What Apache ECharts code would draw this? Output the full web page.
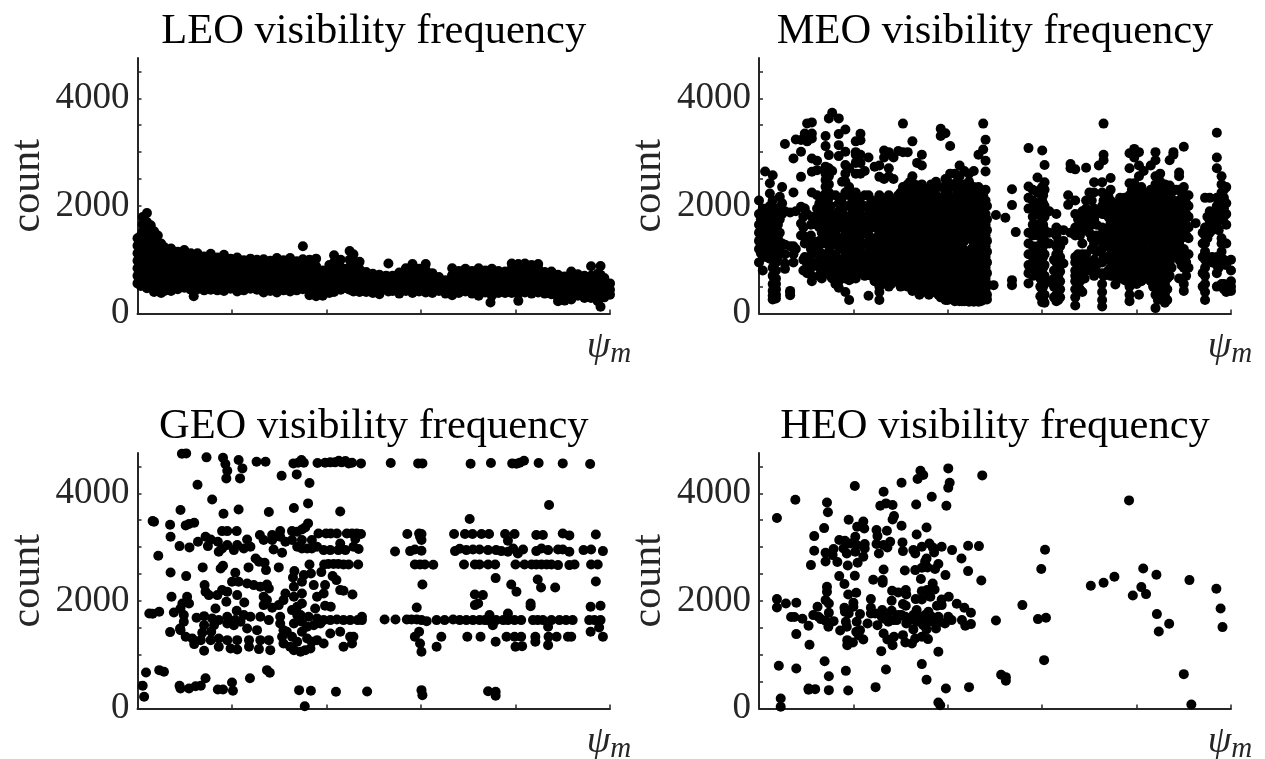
<!DOCTYPE html>
<html>
<head>
<meta charset="utf-8">
<script src="https://cdn.jsdelivr.net/npm/echarts@6/dist/echarts.min.js"></script>
<style>html,body{margin:0;padding:0;background:#fff}</style>
</head>
<body>
<div id="main" style="width:1265px;height:759px;"></div>
<script>
var panelNames = ['LEO visibility frequency','MEO visibility frequency','GEO visibility frequency','HEO visibility frequency'];
var yTicks = [0,500,1000,1500,2000,2500,3000,3500,4000,4500];
var yLabels = [0,2000,4000];
var xTicks = [0,20,40,60,80,100];

// LEO, read column by column: x then the counts stacked in that column
var leoX = [0,0.7,1.1,2,2.8,3.5,4.3,5,5.7,7.1,8.5,9.9,11.3,11.9,12.7,14.1,15.5,16.9,18.3,19.7,21.1,22.5,23.9,25.3,26.7,28.1,29.5,30.9,32.3,33.7,35,36.4,37.8,39.2,40.6,41.6,43,44.9,45.7,47,48.4,49.8,51.2,53.1,54,55.4,56.8,58.2,59.6,61,62.4,63.8,65.2,66.6,68,69.4,70.8,72.2,73.6,74.7,75,76.4,77.8,79.2,80.6,82,83.4,84.8,86.2,87.6,89,90.4,91.8,93.2,94.6,96,97.4,98,98.8,100];
var leoY = [
[1400,1260,1120,980,840,700,560],[1450,1330,1190,1050,910,770,630,510],[1793,1660,1520,1380,1240,1100,960,820,680,540],[1868,1700,1560,1420,1280,1140,1000,860,720,580,470],[1640,1500,1360,1220,1080,940,800,660,520],[1530,1390,1250,1110,970,830,690,550,400],[1450,1310,1170,1030,890,750,610,470],[1300,1160,1020,880,740,600,460,380],[1230,1090,950,810,670,530,420],
[1210,1070,930,790,650,510,420],[1150,1010,870,730,590,450],[1180,1040,900,760,620,480],[1120,980,840,700,560,440],[320],[1120,980,840,700,560,450],[1060,920,780,640,500,430],[1110,970,830,690,550,440],[1040,900,760,620,480,430],[1090,950,810,670,530,420],[1020,880,740,600,460],[1040,900,760,620,480,410],[990,850,710,570,430],[1020,880,740,600,460],[1000,860,720,580,440],[1010,870,730,590,450,390],[980,840,700,560,420],[1030,890,750,610,470,390],[990,850,710,570,430],[1030,890,750,610,470,410],[970,830,690,550,430],
[1250,1010,870,730,590,450],[1000,860,720,580,440,340],[1020,880,740,600,460,320],[800,660,520,420,330],[900,760,620,480,380],[1082,950,810,670,530,400],[1000,860,720,580,440],[1163,1000,860,720,580,440],[1100,960,820,680,540,410],[960,820,680,540,400],[770,630,490,400],[740,600,460,380],[720,580,440,360],[928,690,550,410],[700,560,420],[760,620,480,370],[840,700,560,420],[920,780,640,500,380],[830,690,550,410],[920,780,640,500,390],[750,610,470,380],[680,540,420],[620,480,370],[840,700,560,420,340],[790,650,510,380],[830,690,550,410],[790,650,510,370],[840,700,560,420,330],[800,660,520,390],[204],[830,690,550,410,330],[790,650,510,380],[780,640,500,380],[930,790,650,510,380],[920,780,640,500,370,235],[930,790,650,510,390],[900,760,620,480,370],[920,780,640,500,390],[770,630,490,370],[780,640,500,360],[720,580,440,300,230],[690,550,410,260,240],[780,640,500,360,260],[730,590,450,330],[700,560,420,290],[880,700,560,420,290],[740,600,460,320,230],[884,720,580,440,330,124],[660,520,400,300],[560,440,350]
];
// LEO, the counts packed inside the solid band between those columns
var leoFillX = [7.8,9.2,10.6,12,13.4,14.8,16.2,17.6,19,20.4,21.8,23.2,24.6,26,27.4,28.8,30.2,31.6,33,34.4,35.8,37.2,38.6,40,41.4,42.8,44.2,45.6,47,48.4,49.8,51.2,52.6,54,55.4,56.8,58.2,59.6,61,62.4,63.8,65.2,66.6,68,69.4,70.8,72.2,73.6,75,76.4,77.8,79.2,80.6,82,83.4,84.8,86.2,87.6,89,90.4,91.8,93.2,94.6,96,97.4,98.8];
var leoFillY = [
[480,600,720,840,960,1080],[490,610,730,850,970,1090],[480,600,720,840,960],[470,590,710,830,950],[480,600,720,840,960],[490,610,730,850,970],[480,600,720,840,950],[470,590,710,830,940],[480,600,720,840,950],[490,610,730,850,950],[480,600,720,840,930],[470,590,710,830,930],[480,600,720,840,930],[490,610,730,850,930],[480,600,720,840,920],[470,590,710,830,930],[480,600,720,840,930],[490,610,730,850,930],[480,600,720,840,920],[470,590,710,830,920],[480,600,720,840,920],
[490,610,730],[470,590,700],[480,600,710],[490,610,730,850],[480,600,720,840],[470,590,710,830],[480,600,720,840],[490,610,720],[470,590,680],[460,580,670],[470,580,660],[470,590,700],[470,580,680],[480,590,690],[470,600,720],[480,600,720,800],[470,590,700],[480,590,700,810],[460,570,650],[450,550],[450,530],[470,590,710],[480,600,700],[470,590,710],[480,600,710],[470,590,710],[480,600,700],[470,590,710],[480,600,700],[470,590,680],[480,600,710,830],[470,590,710,830],[480,600,720,830],[470,590,710,820],[480,600,720,840],[470,590,690],[460,580,680],[450,570,650],[450,560,640],[460,580,690],[450,570,650],[460,570,630],[450,570,690],[450,570,650],[430,530]
];

// MEO, same column layout
var meoX = [0,0.8,1.3,2.3,2.9,3.6,4.4,4.9,5.5,6.6,7.3,7.8,8.9,9.7,10.2,11.2,12.3,13.3,14.1,14.8,15.5,16.9,18.3,19.1,20.5,21.5,22.4,23.2,24.5,25.5,26.5,27.5,28.5,29.5,30.5,31.5,32.5,33.5,34.5,35.5,36.5,37.5,38.5,39.5,40.5,41.5,42.5,43.5,44.5,45.5,46.5,47.5,48,49.7,50.2,52.2,53.6,54.4,57.1,58,59,59.6,60,60.5,61.5,63,63.8,64.5,65.5,66,67,67.6,68.5,69.3,70,71,72,72.7,73,74.5,75.5,76.5,77.5,78.5,79.5,80.5,81.5,83,84,85,86,87,87.8,89,90,91,92.5,94.5,95.5,96,97,97.8,98,99,100];
var meoY = [
[2100,1850,1650,1500,1350,1200,950],[1950,1750,1550,1400,1250,1100,800],[2640,1850,1650,1450,1250,1050],[2420,2230,2000,1800,1600,1400,1200,1020],[2570,2100,1900,1700,1500,1300,1000,850,700,550,420,330,260],[1950,1750,1500,1300,1100,950,800,650,550,450,350,280],[2170,1950,1750,1500,1320,1150],[2350,2050,1850,1300],[3150,1900,1280,1100,930,830],[1880,1250,400,340,420],[2880,2250,1250,1100,950],[3236,1900,1200],[3224,3007,2540,1985,1674,1450],[3348,1950,1300,1050],[3534,3200,1850,1350,1000,900,750],
[3553,3348,3255,2883,2635,2250,1800,1350,1100,950,700,600],[2665,2840,2200,1950,1750,1650,1250],[2150,1950,1700,1500,1300,1100,950,800,650],[3300,3112,2730,2600,2480,2355,2230,2100,1950,1800,1600,1450,1300,1050,900,750],[3627,2945,2700,2550,2400,2250,2150,2000,1700,1550,1400,1150,950,750],[3732,2650,1800,1650,1500,1350,950,800,650],[3627,3335,3130,2926,2050,1900,1800,1600,1400,1250,950,800,600,480],[3422,3007,2760,2600,2450,2250,2000,1800,1650,1500,1300,1100,900,750,650,400],[2700,2350,2200,2000,1800,1650,1500,1350,1200,1050,900,750,620,250],[3200,3000,2950,2800,2600,2250,2100,1950,1800,1600,1400,1250,1100,950,750,650],[3340,3220,2950,2800,2600,2150,2000,1850,1650,1450,1300,1150,1000,800],[2650,2200,2000,1800,1650,1500,1300,1100,950,800,700],[2900,2200,1950,1750,1550,1450,1250,1100,950,330],[2730,2000,1800,1600,1400,1200,1000,750,600],[2750,2540,2200,1950,1750,1500,1300,1100,900,650,500,400,250],[3030,2900,2500,2100,1900,1700,1550,1400,1150,950,800,650],[3000,2700,2550,2200,2050,1850,1650,1500,1300,1100,900,700,500],[2900,2500,1950,1750,1550,1250,1050,800],[3020,2200,2000,1800,1600,1400,1250,900,650],[3530,3000,2350,2150,1950,1700,1500,1150,950,750],[3000,2400,2200,2050,1850,1650,1350,1100,900,700,500],[3200,2550,2300,2100,1900,1750,1500,1300,1100,950,750,600,420],[2800,2250,2000,1800,1600,1450,1250,1050,850,650,450],[2950,2750,2400,2150,1950,1750,1550,1300,1100,850,600],[2300,2050,1900,1700,1550,1350,1150,950,750,550,400],[2400,2150,1950,1750,1600,1400,1200,1000,800,650,500],[2450,2200,2000,1800,1650,1450,1250,1050,850,700,450],[3435,3300,2150,1950,1750,1550,1350,1150,950,800,620,450,300],[3350,2500,2250,2050,1850,1650,1450,1250,1050,850,700,550,350,250],[3115,2600,2350,2150,1950,1750,1550,1350,1150,950,750,600,450,300],[2600,2150,1800,1600,1400,1100,900,700,500,300,230],[2750,2550,2350,2100,1950,1750,1550,1300,1150,950,750,600,450,300,230],[2650,2400,2200,1800,1600,1350,1150,900,700,550,400,300,230],[2600,2450,2150,1950,1750,1550,1050,850,650,500,350,220],[2650,2350,2200,1950,1750,1500,1300,1100,900,700,500,350,220],[2950,2350,2150,1900,1700,1500,1300,1100,850,650,500,300,220],[3530,3050,2200,1950,1800,1600,1400,1200,1000,800,600,400,250],[3230,2840,2640,2300,2100,1850,1650,1450,1250,1050,850,650,450,300],
[527],[1830],[1780],[2310,2015,620,527],[1513],
[3075,2360,2150,1950,1500,1300,1100,900,750,560],[2300,2100,1800,1650,1450,1250,1050,850,700],[2530,2250,2050,1850,1650,1450,1250,1000],[2300,2050,1850,1650,1450,1250,1050,850,650,500,320],[3030,2350,2150,1950,1750,1550,1350,1150,950,750,600,450,280,210],[2760,2440,2300,2000,1800,1550,1350,1100,900,700,550,350,200],[1900,1500,1300,600],[1850,1600,1450,1250,1100,950,800,650,500,350,230],[1250,1050,900,780,600,450,300],[1550,1350,930],[2200,2020],[2780,2700,1500],[2680,2100,1850,1600,1450,1050,950,800,700,600,450,300,150],[1750,1550,1100,850,550],[1900,1600,1300,1100,950,850,700,400],[2710,2100,1950,1700,1550,1100],[2250,1750,1500,950,800],[2440,2250,1950,1750,1300,1000,850,700],[2750],[2440,2250,2000,1850,1600,1350,1200,950,750,550,400,250,130],[3530,2950,2850,2100,1850,1500,1250,1050,700],[2520,2300,2100,1900,1700,1350,1100,850,700],[1950,1750,1500,1300,900,800,540],[2150,1900,1650,1450,1150,950,800,650],[2150,1950,1750,1550,1350,1150,950,800,620],[2980,2700,2420,2200,2000,1800,1600,1350,1150,950,700,500,350,230],[3060,2900,2420,2250,2050,1850,1650,1450,1250,1000,800,650],[3000,2750,2550,2150,1950,1750,1550,1300,1100,850,650,350],[2650,2250,2050,1850,1650,1450,1250,1050,850,700],[2750,2300,2100,1900,1700,1500,1300,1000,800,600],[3000,2850,2550,2400,2150,1950,1750,1550,1350,1150,950,750,550,350,100],[2600,2450,2250,2000,1800,1600,1400,1200,1000,800,600,400],[2400,2200,2000,1800,1600,1400,1200,1000,750,550,350,200],[2850,2380,2150,1950,1750,1550,1350,1150,950,700],[2950,3000,2300,2100,1900,1700,1500,1300,1150],[2620,2550,2300,2100,1900,1700,1500,1300,1000,650],[3100,2350,2150,1950,1750,1550,1200,1050,850,550,420],[2200,2000,1800,1600,1400,1100,850],[1680],[2150,1600,1450,1300,1150,1000,850,700,550,400,250],[2150,1900,1700,1500],[1800,1550,1050,950],[3360,2700,2900,2150,2000,1850,1650,1050,900,750,500],[2150],[2550,2400,2250,2100,1900,1750,1400,1300,1150,950,550],[2350,2050,1850,1650,1300,900,500,400],[1000,800,600,500,420]
];
// MEO, the columns packed between the ones above
var meoFillX = [0.4,1.8,3.2,4,9.4,11,12.8,15.2,16.2,17.6,19.8,21,23.8,25,26,27,28,29,30,31,32,33,34,35,36,37,38,39,40,41,42,43,44,45,46,47,48.3,58.5,60.2,62.5,63.4,68,69,70.5,71.5,74,75,76,77,78,79,80,81,82,83.5,84.5,85.5,86.5,87.4,88.4,89.5,90.5,94,95,97.4,98.5];
var meoFillY = [
[1750,1420,1270,1120],[1950,1750,1550,1350,1150],[1850,1600,1400,1200],[1850,1650,1400,1200,1050],[1800,1600,1450,1000,800],[1650,1450,1200,850],[2050,1850,1600,1350,1150,1000,850,700],[2000,1850,1250,1100,850,700],[2200,1750,1500,1300,1100,850,700,550],[2450,2150,1900,1700,1400,1200,1000,850,700],[2100,1900,1700,1450,1300,1150,1000,800,650],[2050,1900,1750,1550,1350,1200,900,750],[2100,1850,1650,1300,1050,850,700],[2100,1850,1650,1400,1200,1000,800,600],[2000,1800,1600,1300,1050,850,700,550],[2100,1950,1750,1550,1400,1200,1000,800,600],[2000,1850,1650,1400,1150,950,700,550],[2100,1900,1700,1500,1300,1100,800,600],
[2250,2050,1800,1600,1400,1250,1000,850,650,500],[2300,2100,1950,1750,1550,1250,1000,800,600],[2450,2200,1950,1800,1600,1400,1200,1050,850,650],[2400,2150,1900,1700,1500,1350,1150,950,750,550],[2300,2050,1850,1650,1400,1200,1000,750,500,350],[2200,2000,1800,1600,1450,1250,1050,850,650,450],[2300,2050,1850,1650,1500,1300,1100,900,700,550,350],[2300,2100,1900,1700,1500,1350,1150,950,750,600,400],[2350,2050,1850,1650,1450,1250,1050,900,700,550,350],[2350,2150,1950,1750,1550,1350,1150,950,750,600,450,300],[2450,2250,2050,1850,1650,1450,1250,1050,850,650,500,350,250],[2400,2050,1900,1700,1500,1250,1000,800,600,400,270],[2450,2250,2000,1850,1650,1450,1200,1050,850,650,500,350,250],[2300,2100,1900,1700,1450,1250,1050,800,600,450,350,230],[2300,2050,1850,1650,1450,1150,950,750,600,420,280],[2250,2050,1850,1650,1400,1200,1000,800,600,430,280],[2250,2050,1800,1600,1400,1200,1000,750,600,400,260],[2100,1900,1700,1500,1300,1100,900,700,500,350,230],[2000,1750,1550,1350,1150,950,750,550,350,260],
[1950,1550,1150,950,750],[2200,2050,1850,1650,1450,1250,1050,850,650,500,350,250],[1000,800,650,500,300],[1350,1150,1000,850,700,550,400,250],[1800,1450,1000,900,750,600,450],[1850,1600,1000,800,650],[2100,1850,1650,1400,1200,900],[1850,1650,1450,1150,900,750],[2200,2000,1800,1600,1450,1250,1000,800],[1850,1650,1400,1200,1000,700],[2050,1800,1550,1300,1050,850,700],[2050,1850,1650,1450,1250,1050,850,700],[2100,1900,1700,1500,1250,1050,850,600],[2300,2100,1900,1700,1500,1300,1100,900,750,550],[2300,2050,1850,1650,1450,1200,950,750,550],[2350,2150,1950,1750,1550,1350,1150,950,750,600],[2150,1950,1750,1550,1350,1150,950,800,650],[2200,2000,1800,1600,1400,1150,900,700,500],[2250,2050,1850,1650,1450,1250,1050,850,650,450,250],[2350,2150,1900,1700,1500,1300,1100,900,700,500,300],[2300,2100,1900,1700,1500,1300,1100,850,650,450,250],[2250,2050,1850,1650,1450,1250,1050,850],[2300,2050,1850,1650,1450,1250,1050],[2250,2050,1800,1600,1400,1150,900],[2050,1850,1650,1450,1100,950,700],[1500,1300,1050,750,500],[1800,1600,1400],[2050,1900,1750,1550,1000,850],[2300,2150,1950,1800,1000,550,450]
];

var geoPoints = [
[9.4,4737],[10.3,4743],[14.6,4669],[18.1,4662],[18.6,4545],[19,4421],[18.8,4278],[21.4,4619],[22.2,4464],[21.7,4278],[25.2,4588],[27.1,4588],[30.5,4328],[33.7,4352],[36.4,4191],[12.7,4160],
[33,4557],[34,4570],[34.7,4619],[35.2,4570],[38.1,4563],[39.7,4570],[40.8,4576],[41.8,4576],[42.6,4607],[43.2,4576],[44,4600],[44.7,4557],[45.4,4570],[47.3,4557],[53.6,4563],[59.4,4557],[60.3,4557],[70.5,4551],[74.8,4563],[79.3,4557],[80.2,4551],[80.9,4570],[81.8,4607],[84.9,4563],[90,4557],[95.8,4545],
[15.8,3887],[9.1,3689],[18.2,3621],[21.4,3701],[27.8,3652],[33.1,3726],[36.1,3813],[42.9,3664],[87.1,3782],[70.3,3522],[3.5,3472],[3.2,3484],[6.9,3416],[10.2,3404],[10.9,3429],[12,3453],[36.1,3441],[35.5,3367],[34.8,3329],
[17.9,3298],[19,3298],[21,3298],[30.2,3298],[32.7,3298],[33.8,3286],[38.3,3255],[39.9,3255],[40.9,3255],[42.2,3255],[44.3,3255],[45.4,3255],[46.4,3255],[47.3,3243],[57.1,3243],[59.6,3255],[60.1,3243],[67,3243],[69.3,3243],[70.9,3243],[72.8,3243],[74.4,3243],[77.8,3243],[79.8,3243],[84.4,3224],[85.8,3224],[90,3255],[91.4,3218],[97,3236],[25.9,3224],[28.5,3224],[30.2,3193],[7,3193],[14.4,3193],[15.5,3143],
[8.9,3019],[11,2995],[12.8,3100],[14.9,3019],[17,3100],[17.2,2914],[19,3038],[17.9,2976],[20.4,2945],[21.1,3038],[23.2,3143],[22.5,2976],[23.9,3007],[26.7,3131],[28.5,3131],[28.8,2957],[30.6,2895],[31.3,3100],[32.7,3131],[33.8,3007],[34.8,3131],[34.8,2976],[35.9,2976],[36.9,3131],[36.9,2976],[38,3007],[39.4,2945],[40.8,2945],[42.9,3069],[42.5,2945],[44,2945],[45.7,3007],[46.8,2964],[46.1,3150],[54.5,2920],[57.7,2926],[58.7,2957],[60.1,2933],[59.8,3193],[60.1,3131],
[67.2,2926],[68.2,2970],[69.6,2945],[71,2957],[72.4,2957],[74.2,2945],[75.9,2945],[77,2926],[78.4,2914],[79.5,2976],[80.5,2883],[81.6,2957],[84.4,2926],[85.5,2976],[86.9,2945],[89,2957],[90,2957],[91.4,2914],[94.4,2945],[96,2957],[98.5,2926],[78.4,3119],[4.4,2840],[25,2790],[25.7,2728],[26.9,2709],
[36.4,2678],[39.5,2678],[40.4,2685],[41.5,2685],[42.5,2685],[43.6,2678],[44.7,2678],[46.7,2678],[58.7,2678],[59.8,2678],[60.8,2678],[62.6,2672],[69.1,2678],[71.4,2678],[72.4,2678],[74.2,2678],[75.7,2678],[80,2678],[81.9,2678],[83.4,2678],[84.4,2678],[85.5,2678],[86.6,2678],[87.6,2678],[89,2666],[91.4,2666],[92.5,2678],[96,2678],[97.4,2678],
[13.8,2623],[17.6,2604],[18.1,2654],[23.5,2623],[27.2,2573],[29.9,2623],[7,2530],[10.3,2461],[20.7,2523],[33.2,2554],[32.9,2437],[35.2,2480],[36.7,2511],[38.9,2536],[41.3,2461],[42.1,2387],[42.9,2201],[43.6,2189],[45.5,2120],[75.8,2424],[84.7,2399],[97,2362],[60.3,2306],[79.1,2306],[85.4,2251],[88.4,2251],[80.2,2170],[71.4,2120],[73.1,2108],[72.1,1953],[71.4,1922],[83.2,1953],[83.2,1903],[95.9,1891],[98,1910],[59.1,1879],
[20,2356],[21.4,2356],[23.2,2325],[24.6,2294],[26,2263],[27.4,2306],[27.8,2232],[14.2,2294],[14.4,2170],[15.1,2108],[16.9,2108],[17.9,2201],[19,2170],[18.8,1984],[21.1,2108],[22.6,1972],[10.5,2077],[9.5,1953],[10.9,1953],[7.2,2077],[16.5,1860],[21,1817],[26.7,2077],[27.4,2015],[26.7,1922],[28.5,1872],[31.3,2139],[30.9,2015],[29.9,1922],[33.1,2263],[34.8,2356],[37.3,2294],[39.7,2294],[39.4,2139],[38,2077],[33.1,2077],[34.8,2139],[34.8,1953],[32.7,1829],[33.8,1891],[37.6,1860],[39.7,1910],[40.9,1891],
[3.2,1761],[4.6,1798],[7.7,1786],[2.5,1767],[9.1,1860],[9.8,1736],[9.8,1612],[9,1488],[12.5,1686],[14.1,1717],[15.8,1674],[17.2,1643],[19,1705],[20.7,1643],[22.5,1736],[23.9,1705],[26,1705],[27.8,1643],[14.1,1550],[16.2,1550],[19,1581],[20.4,1550],[21.8,1612],[23.2,1488],[25.3,1457],[6.9,1420],[9.1,1457],[10.2,1333],[12,1197],[11.6,1302],[13.7,1407],[15.6,1426],
[13.4,1271],[14.1,1073],[15.5,1271],[17.2,1147],[17.2,1302],[19.7,1116],[19,1271],[21.1,1097],[21.1,1271],[23.6,1147],[23.6,1271],[25.7,1104],[26,1271],[28.1,1085],[27.8,1271],[30.2,1705],[30.2,1581],[30.9,1457],[30.6,1333],[30.9,1209],[32.3,1147],[33.1,1085],[34.5,1054],[35.5,1085],[36.6,1116],[31.6,1426],[32.7,1333],[33.8,1240],[34.8,1426],[35.9,1302],[36.9,1240],[33.1,1581],[33.8,1736],[34.8,1612],[35.9,1519],[38,1271],[39.4,1209],[40.8,1395],[42.9,1426],[45,1333],[45.4,1209],[43.6,1147],[45.7,1333],
[34.5,1736],[36.2,1705],[38,1674],[39.4,1643],[40.8,1643],[42.2,1655],[43.6,1643],[45,1643],[46.6,1643],[47.5,1705],[47.5,1643],[37.3,1550],[38.7,1581],[52.3,1655],[54.6,1655],[57,1655],[58,1655],[59.1,1655],[60.1,1643],[61.2,1624],[63.3,1643],[65,1643],[66.8,1655],[68.2,1643],[69.6,1643],[71,1643],[72.4,1643],[73.5,1643],[74.5,1736],[74.2,1643],[75.2,1550],[75.9,1643],[77.4,1643],[78.4,1767],[78.4,1643],[79.8,1643],[81.2,1643],[83.7,1643],[84.7,1643],[85.8,1643],[86.9,1519],[87.6,1643],[89.3,1643],[90.7,1643],[92.1,1643],[95.6,1643],[96.7,1643],[98,1643],
[58.7,1333],[59.6,1426],[59.8,1209],[60.1,1054],[63.3,1147],[64.3,1333],[69.8,1333],[72.6,1333],[75.8,1240],[78.1,1333],[79.8,1333],[81.2,1333],[80,1147],[81.4,1159],[84.2,1333],[84.2,1240],[87,1333],[86.9,1178],[88.7,1333],[91.1,1333],[91.8,1333],[95.9,1426],[97.7,1507],[98.5,1333],
[1.8,670],[4.6,713],[5.6,682],[27.4,713],[28,663],[23.8,564],[20,484],[14.4,564],[8.9,422],[9.1,372],[10.9,372],[12.3,415],[13.4,422],[1.1,422],[1.4,217],[17,353],[18.1,353],[20.2,329],[34.2,341],[36.7,329],[42,310],[48.6,316],[60.1,341],[60.3,248],[74.2,322],[75.8,310],[75.8,236],[35.4,43]
];

var heoPoints = [
[3.8,3540],[7.7,3880],[14.4,3830],[14.6,3650],[20.3,4135],[26.4,4030],[30.2,4197],[34.2,4420],[34.8,4340],[33.6,4265],[40.1,4464],[40.4,4197],[40.1,4104],[47.3,4334],[36.6,3937],[33.3,3794],[39.7,3770],[25.7,3770],[26.9,3813],[28.3,3782],[19,3509],[22.1,3478],[20.8,3379],[22.3,3348],[13.8,3354],[28.6,3577],[28.3,3515],[30.2,3398],[24.9,3317],[27.1,3305],[25.1,3205],[33.4,3236],[35.5,3366],[11.7,3205],[20.4,3193],[17,3131],[18.2,3119],[19.3,3069],[20.7,3038],[22.4,3057],[22.4,2976],[15.8,2964],[17.9,2976],[11.7,2933],[14.1,2895],[15.6,2852],[18.6,2883],[20.4,2914],[22.1,2821],[24.9,3057],[26.4,3038],[27.8,3100],[27.2,2995],[25.4,2883],[30.4,3088],[30.5,2926],[32.7,2945],[33.1,2883],[34.5,3007],[36.1,3069],[36.8,2995],[37.1,2902],[38.7,3007],[40.9,2945],[44.3,3026],[46.6,3019],[60.6,2951],[42.9,2790],[35.5,2790],[35.2,2730],[38,2685],[11,2666],[14.1,2734],[16.6,2722],[18.8,2660],[20.9,2709],[26.4,2585],[30.9,2567],[33.1,2573],[34.5,2616],[35.7,2623],[37.3,2592],[44.3,2554],[59.8,2592],[17,2461],[20.3,2468],[39.5,2480],[24.2,2393],[26.2,2387],[26.2,2337],[34.3,2406],[47.1,2381],[18.1,2313],[36.8,2325],[14.4,2263],[14.4,2170],[28.2,2189],[29.5,2158],[31.1,2201],[31.2,2120],[34.5,2182],[35.6,2201],[37.2,2213],[18.9,2120],[20.6,2151],[36,2130],[23.7,2034],[28.1,2003],[3.8,2034],[5.7,1953],[7.9,1965],[3.8,1879],[14.1,2015],[14.8,1953],[20,1965],[33.2,2034],[34.5,2027],[36.3,2077],[38.7,2027],[40.2,2077],[41.9,1947],[30.5,1941],[31.1,1910],[37.7,1910],[38.7,1922],[43.5,1872],[55.8,1922],[18.1,1872],[12.4,1891],[23.7,1872],[20,1891],
[6.8,1700],[7.5,1700],[9.2,1668],[11.5,1736],[12.6,1705],[13.1,1662],[14.8,1780],[14.1,1630],[15.8,1624],[14.7,1519],[10.5,1538],[18.2,1798],[19,1767],[18.4,1612],[18.6,1519],[21.4,1755],[20.7,1612],[23,1581],[23.7,1767],[24.6,1767],[25.1,1550],[26.1,1829],[26.4,1674],[27.1,1705],[28.1,1817],[28.5,1643],[29.5,1736],[31,1705],[31.2,1581],[32.7,1469],[33.4,1829],[33.8,1705],[34.1,1612],[35.2,1736],[35.9,1798],[35.5,1469],[36.6,1705],[37.5,1488],[38,1705],[39.4,1581],[40.1,1705],[40.8,1643],[43,1643],[43.7,1538],[44.9,1780],[44.9,1569],[50.2,1637],[59.1,1662],[60.8,1686],[26,1705],[27.4,1612],[29.2,1643],[30.2,1736],[32,1643],[32.7,1736],[33.4,1612],[34.5,1643],[35.5,1674],[34.8,1550],[36.2,1612],[36.9,1643],[38.4,1612],
[7.9,1383],[10.7,1184],[17.2,1451],[20.6,1426],[21.4,1457],[21.1,1364],[22.1,1283],[18.7,1271],[18.7,1178],[19.9,1228],[26.4,1395],[28.6,1333],[27.2,1283],[28.3,1178],[30.5,1364],[31,1228],[32.4,1209],[33.1,1302],[34.5,1333],[35.8,1290],[25.9,1066],[38,1054],
[4.2,794],[7.9,744],[13.9,880],[18.4,700],[14.8,601],[26.9,725],[34.5,825],[35.5,533],[51.3,626],[52.3,583],[52.3,515],[60.4,899],[90,639],[10.5,372],[10.5,347],[11.9,360],[14.8,341],[18.9,335],[24.7,397],[39.6,372],[44.5,397],[4.6,186],[4.6,31],[38,112],[38.4,62],[91.6,74],
[70.3,2282],[73,2337],[75.3,2449],[78.4,3869],[81.4,2604],[84.2,2486],[81,2257],[79.2,2102],[82,2127],[91.2,2387],[96.9,2226],[97.8,1860],[84.3,1755],[86.9,1575],[84.7,1432],[98.2,1513]
];

function fromColumns(xs, ys){
    var out = [];
    xs.forEach(function(x,i){
        ys[i].forEach(function(y){ out.push([x,y]); });
    });
    return out;
}
var panelData = [
    fromColumns(leoX,leoY).concat(fromColumns(leoFillX,leoFillY)),
    fromColumns(meoX,meoY).concat(fromColumns(meoFillX,meoFillY)),
    geoPoints,
    heoPoints
];

var grids = [
    {left:137.5,top:58,width:472.5,height:255.5,outerBoundsMode:'none'},
    {left:759,top:58,width:472,height:255.5,outerBoundsMode:'none'},
    {left:137.5,top:453,width:472.5,height:255.5,outerBoundsMode:'none'},
    {left:759,top:453,width:472,height:255.5,outerBoundsMode:'none'}
];
var serif = '"Liberation Serif", serif';
var dark = '#262626';

var option = {
    animation:false,
    backgroundColor:'#fff',
    title:[],grid:[],xAxis:[],yAxis:[],series:[]
};
panelNames.forEach(function(name,i){
    var g = grids[i];
    option.grid.push(g);
    option.title.push({
        text:name,
        left:g.left+g.width/2-5,
        top:g.top-58+5,
        textAlign:'center',
        textStyle:{fontFamily:serif,fontSize:42.5,fontWeight:'normal',color:'#000'}
    });
    option.xAxis.push({
        gridIndex:i,type:'value',min:0,max:100,interval:20,
        name:'{a|ψ}{b|m}',
        nameLocation:'end',
        nameGap:-1,
        nameTextStyle:{
            align:'center',verticalAlign:'top',padding:[12,0,0,0],
            rich:{
                a:{fontFamily:serif,fontStyle:'italic',fontSize:38,color:dark},
                b:{fontFamily:serif,fontStyle:'italic',fontSize:29,color:dark,padding:[14,0,0,0]}
            }
        },
        splitLine:{show:false},
        axisLine:{lineStyle:{color:dark,width:2}},
        axisTick:{inside:true,length:4,lineStyle:{color:dark,width:1.5},customValues:xTicks},
        axisLabel:{show:false}
    });
    option.yAxis.push({
        gridIndex:i,type:'value',min:0,max:4750,interval:500,
        name:'count',
        nameLocation:'middle',
        nameGap:89,
        nameTextStyle:{fontFamily:serif,fontSize:42,color:dark},
        splitLine:{show:false},
        axisLine:{show:true,lineStyle:{color:dark,width:2}},
        axisTick:{show:true,inside:true,length:4,lineStyle:{color:dark,width:1.5},customValues:yTicks},
        axisLabel:{fontFamily:serif,fontSize:37,color:dark,margin:8,customValues:yLabels,formatter:function(v){return String(v);}}
    });
    option.series.push({
        type:'scatter',xAxisIndex:i,yAxisIndex:i,
        data:panelData[i],
        symbol:'circle',symbolSize:10,clip:false,
        itemStyle:{color:'#000',opacity:1}
    });
});

var myChart = echarts.init(document.getElementById('main'),null,{renderer:'canvas'});
myChart.setOption(option);
</script>
</body>
</html>
